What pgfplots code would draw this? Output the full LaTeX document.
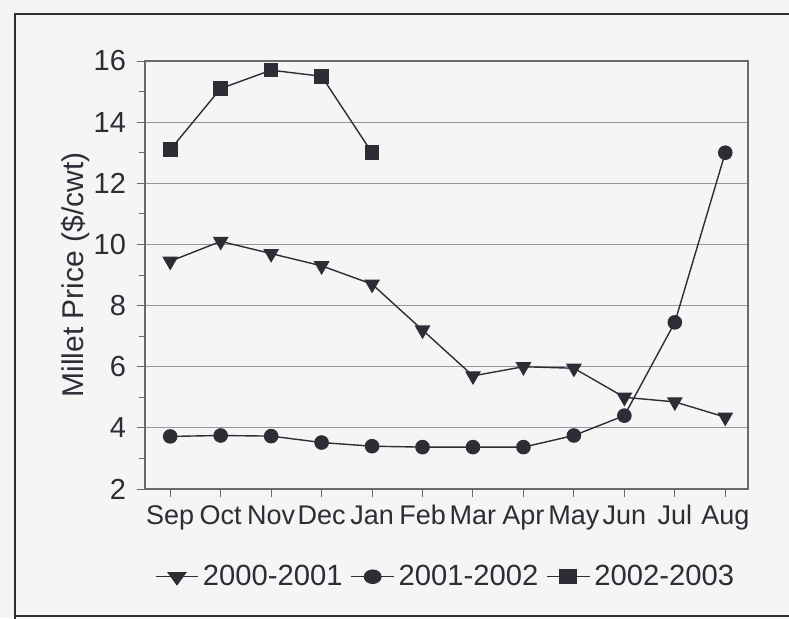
\documentclass[border=0pt]{standalone}
\usepackage{pgfplots}
\pgfplotsset{compat=1.18}
\usepackage{fontspec}
\setmainfont{Liberation Sans}
\definecolor{bg}{RGB}{247,244,246}
\definecolor{ink}{RGB}{48,44,54}
\definecolor{gridc}{RGB}{150,148,158}
\begin{document}
\begin{tikzpicture}
\useasboundingbox (0pt,0pt) rectangle (394.5pt,309pt);
\fill[bg] (0pt,0pt) rectangle (394.5pt,309pt);
\draw[ink, line width=1.3pt] (7.5pt,-2pt) -- (7.5pt,302pt) -- (398pt,302pt);
\draw[ink, line width=1.3pt] (7.5pt,1pt) -- (398pt,1pt);
\begin{axis}[
  at={(72.5pt,64.5pt)}, anchor=south west, scale only axis,
  width=301.5pt, height=214pt,
  xmin=-0.5, xmax=11.45, ymin=2, ymax=16,
  ytick={2,4,...,16}, minor y tick num=1,
  xtick={0,...,11},
  xticklabels={Sep,Oct,Nov,Dec,Jan,Feb,Mar,Apr,May,Jun,Jul,Aug},
  ytick pos=left, xtick pos=bottom,
  /pgf/number format/assume math mode=true,
  ymajorgrids,
  major grid style={gridc, line width=0.5pt},
  axis line style={gridc!70!black, line width=0.6pt},
  tick style={gridc!70!black, line width=0.5pt},
  tick align=outside,
  major tick length=4pt, minor tick length=3pt,
  ticklabel style={ink},
  yticklabel style={font=\fontsize{14.5}{16}\selectfont, xshift=-2pt},
  xticklabel style={font=\fontsize{13.5}{15}\selectfont, text height=10pt, text depth=3pt, yshift=0pt},
  ylabel={Millet Price (\$/cwt)},
  ylabel style={font=\fontsize{15}{17}\selectfont, ink, at={(axis description cs:-0.116,0.5)}, anchor=center},
  legend style={at={(axis description cs:0.5,-0.205)}, anchor=center, draw=none, fill=none,
     legend columns=3, font=\fontsize{14.6}{16}\selectfont, text=ink,
     /tikz/every even column/.append style={column sep=2pt},
     /tikz/every odd column/.append style={column sep=0pt}},
  legend image post style={xscale=1.25},
  legend cell align=left,
  every axis plot/.append style={ink, line width=0.7pt},
]
\addplot[mark=triangle*, mark size=3.9pt, mark options={rotate=180, fill=ink}] coordinates {
 (0,9.45) (1,10.1) (2,9.7) (3,9.3) (4,8.7) (5,7.2) (6,5.7) (7,6.0) (8,5.95) (9,5.0) (10,4.85) (11,4.35)};
\addlegendentry{2000-2001}
\addplot[mark=*, mark size=3.3pt, mark options={fill=ink}] coordinates {
 (0,3.72) (1,3.75) (2,3.73) (3,3.52) (4,3.4) (5,3.37) (6,3.37) (7,3.37) (8,3.75) (9,4.4) (10,7.45) (11,13.0)};
\addlegendentry{2001-2002}
\addplot[mark=square*, mark size=3.3pt, mark options={fill=ink}] coordinates {
 (0,13.1) (1,15.1) (2,15.7) (3,15.5) (4,13.0)};
\addlegendentry{2002-2003}
\end{axis}
\end{tikzpicture}
\end{document}
